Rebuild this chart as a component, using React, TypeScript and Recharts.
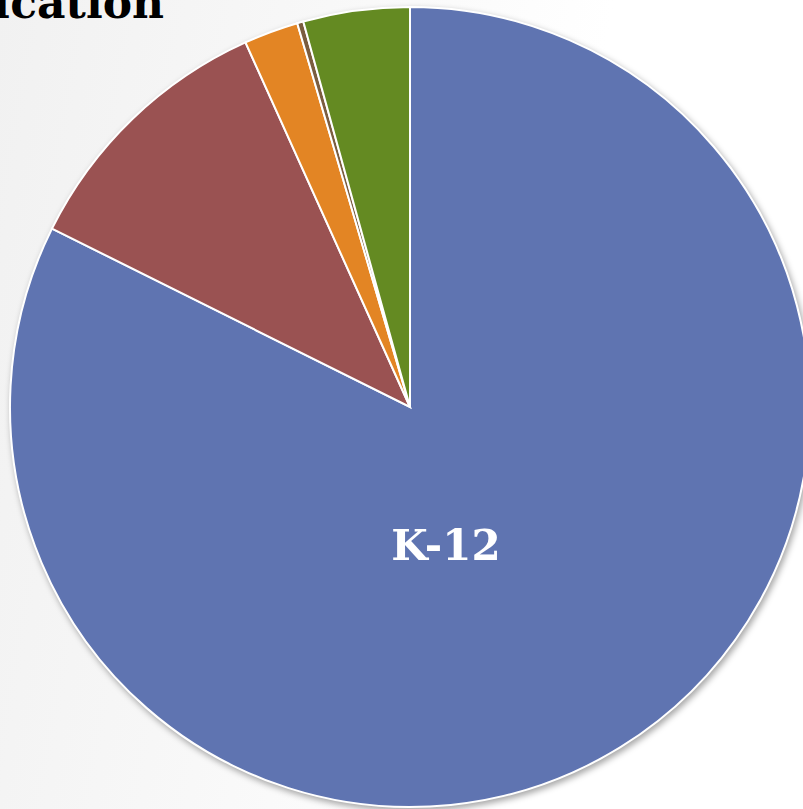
import React from "react";
import { PieChart, Pie, Cell } from "recharts";

const categories = ["K-12", "Higher Education", "Vocational", "Other", "Adult Education"];
const shares = [82.4, 10.9, 2.2, 0.25, 4.3];
const colors = ["#5F74B1", "#9A5252", "#E38524", "#7B5D3F", "#648A22"];
const titleText = "Education";

const data = categories.map((name, i) => ({ name, value: shares[i] }));

const renderLabel = (props: any) => {
  const { cx, cy, outerRadius, index, name } = props;
  if (index !== 0) return null;
  const x = cx + outerRadius * 0.09;
  const y = cy + outerRadius * 0.345;
  return (
    <text
      x={x}
      y={y}
      fill="#ffffff"
      textAnchor="middle"
      dominantBaseline="central"
      fontFamily="'DejaVu Serif', serif"
      fontWeight="bold"
      fontSize={42}
    >
      {name}
    </text>
  );
};

export default function App() {
  return (
    <div
      style={{
        position: "absolute",
        left: 0,
        top: 0,
        width: 803,
        height: 809,
        overflow: "hidden",
        background: "linear-gradient(100deg, #f1f1f1 0%, #f8f8f8 35%, #ffffff 65%)",
      }}
    >
      <div
        style={{
          position: "absolute",
          right: 803 - 164,
          top: -22,
          fontFamily: "'DejaVu Serif', serif",
          fontWeight: "bold",
          fontSize: 44,
          lineHeight: "50px",
          color: "#000",
          whiteSpace: "nowrap",
        }}
      >
        {titleText}
      </div>
      <div style={{ position: "absolute", left: 0, top: 0, filter: "drop-shadow(2px 3px 3px rgba(0,0,0,0.35))" }}>
        <PieChart width={803} height={809} margin={{ top: 0, right: 0, bottom: 0, left: 0 }}>
          <Pie
            data={data}
            dataKey="value"
            nameKey="name"
            cx={410}
            cy={407}
            outerRadius={400}
            startAngle={90}
            endAngle={-270}
            stroke="#ffffff"
            strokeWidth={2}
            label={renderLabel}
            labelLine={false}
            isAnimationActive={false}
          >
            {data.map((d, i) => (
              <Cell key={d.name} fill={colors[i]} />
            ))}
          </Pie>
        </PieChart>
      </div>
    </div>
  );
}
